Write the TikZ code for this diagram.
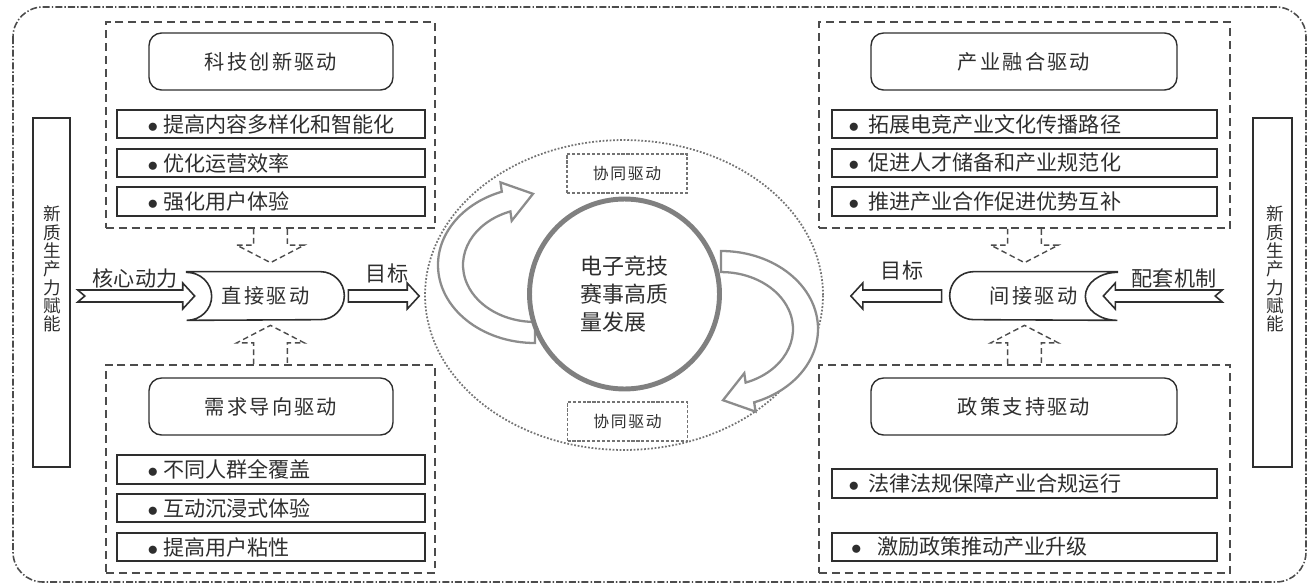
\documentclass[tikz,border=0pt]{standalone}
\usepackage{fontspec}
\setmainfont{Noto Sans CJK SC}
\newfontfamily\spacedfont[LetterSpace=11]{Noto Sans CJK SC}
\usepackage{xcolor}
\usetikzlibrary{calc,shapes.geometric}

\definecolor{inkgray}{gray}{0.18}
\definecolor{dashgray}{gray}{0.3}
\definecolor{dotgray}{gray}{0.45}
\definecolor{ringgray}{gray}{0.5}
\definecolor{swirlgray}{gray}{0.55}

\begin{document}
\begin{tikzpicture}[
  x=0.02cm, y=-0.02cm,
  every node/.style={font=\fontsize{12}{14}\selectfont, text=inkgray},
  frame/.style={draw=dashgray, line width=0.9pt, rounded corners=0.6cm,
    dash pattern=on 4pt off 1.2pt on 0.8pt off 1.2pt},
  grp/.style={draw=dashgray, line width=0.9pt, dash pattern=on 4.5pt off 2.8pt, inner sep=0pt},
  ttl/.style={draw=inkgray, line width=0.8pt, rounded corners=0.25cm, minimum height=1.14cm,
    font=\spacedfont\fontsize{11.5}{13}\selectfont},
  item/.style={draw=inkgray, line width=0.9pt, text width=#1, inner xsep=0pt, inner ysep=0pt,
    minimum height=0.57cm, align=left},
  bul/.style 2 args={execute at begin node={\hspace*{#1}$\bullet$\hspace{#2}}},
  itemL/.style={item=6.16cm, bul={0.61cm}{0.1cm}},
  itemR/.style={item=7.7cm, bul={0.33cm}{0.18cm}},
  sidebox/.style={draw=inkgray, line width=0.9pt, inner sep=0pt},
  sidetxt/.style={font=\fontsize{10}{10.4}\selectfont, align=center, inner sep=0pt},
  drive/.style={draw=inkgray, line width=0.9pt},
  drvtxt/.style={minimum height=0.96cm, inner sep=0pt, font=\spacedfont\fontsize{11.5}{13}\selectfont},
  fat/.style={draw=inkgray, line width=0.9pt, fill=white,
    to path={let \p1=(\tikztostart), \p2=(\tikztotarget), \n1={sign(\x2-\x1)} in
      (\x1,{\y1+3.4pt}) -- ({\x2-\n1*6.8pt},{\y1+3.4pt}) -- ({\x2-\n1*6.8pt},{\y1+7.4pt}) -- (\x2,\y1)
      -- ({\x2-\n1*6.8pt},{\y1-7.4pt}) -- ({\x2-\n1*6.8pt},{\y1-3.4pt}) -- (\x1,{\y1-3.4pt}) -- cycle}},
  fatn/.style={draw=inkgray, line width=0.9pt, fill=white,
    to path={let \p1=(\tikztostart), \p2=(\tikztotarget), \n1={sign(\x2-\x1)} in
      (\x1,{\y1+3.4pt}) -- ({\x2-\n1*6.8pt},{\y1+3.4pt}) -- ({\x2-\n1*6.8pt},{\y1+7.4pt}) -- (\x2,\y1)
      -- ({\x2-\n1*6.8pt},{\y1-7.4pt}) -- ({\x2-\n1*6.8pt},{\y1-3.4pt}) -- (\x1,{\y1-3.4pt})
      -- ({\x1+\n1*4pt},\y1) -- cycle}},
  fork/.style={draw=dashgray, line width=0.8pt, dash pattern=on 3.2pt off 2pt,
    to path={let \p1=(\tikztostart), \p2=(\tikztotarget), \n1={sign(\y2-\y1)} in
      ({\x1-9.6pt},\y1) -- ({\x1-9.6pt},{\y2-\n1*10pt}) -- ({\x1-19.3pt},{\y2-\n1*10pt}) -- (\x1,\y2)
      -- ({\x1+19.3pt},{\y2-\n1*10pt}) -- ({\x1+9.6pt},{\y2-\n1*10pt}) -- ({\x1+9.6pt},\y1)}},
  core/.style={ellipse, draw=dotgray, densely dotted, line width=1pt, inner sep=0pt},
  hub/.style={circle, draw=ringgray, line width=2.8pt, fill=white, minimum size=3.8cm,
    align=left, font=\fontsize{12.5}{16}\selectfont},
  swirl/.style={draw=swirlgray, line width=1.3pt, fill=white},
  sync/.style={draw=dotgray, line width=0.6pt, dash pattern=on 1.8pt off 1pt,
    minimum width=2.4cm, minimum height=0.78cm, font=\spacedfont\fontsize{9}{10}\selectfont}
]
\useasboundingbox (0,0) rectangle (1311,585);
\draw[frame] (13,7) rectangle (1306,582);

% ---- side bars ----
\node[sidebox, minimum width=0.74cm, minimum height=6.98cm] (sideL) at (51.5,292.5) {};
\node[sidetxt] (sideLtxt) at (52,269) {新\\质\\生\\产\\力\\赋\\能};
\node[sidebox, minimum width=0.78cm, minimum height=6.98cm] (sideR) at (1272.5,292.5) {};
\node[sidetxt] (sideRtxt) at (1275,269) {新\\质\\生\\产\\力\\赋\\能};

% ---- left: technology / demand ----
\node[grp, minimum width=6.58cm, minimum height=4.12cm] (grpTL) at (270.5,125) {};
\node[ttl, minimum width=4.88cm] (ttlTL) at (271,61.5) {科技创新驱动};
\node[itemL] (itTL1) at (271,124) {提高内容多样化和智能化};
\node[itemL] (itTL2) at (271,163) {优化运营效率};
\node[itemL] (itTL3) at (271,201.5) {强化用户体验};

\node[grp, minimum width=6.58cm, minimum height=4.16cm] (grpBL) at (270.5,469) {};
\node[ttl, minimum width=4.88cm] (ttlBL) at (271,406.5) {需求导向驱动};
\node[itemL] (itBL1) at (271,469.5) {不同人群全覆盖};
\node[itemL] (itBL2) at (271,508) {互动沉浸式体验};
\node[itemL] (itBL3) at (271,547) {提高用户粘性};

% ---- right: industry / policy ----
\node[grp, minimum width=8.22cm, minimum height=4.12cm] (grpTR) at (1024.5,125) {};
\node[ttl, minimum width=6.12cm] (ttlTR) at (1024,61.5) {产业融合驱动};
\node[itemR] (itTR1) at (1024.5,124) {拓展电竞产业文化传播路径};
\node[itemR] (itTR2) at (1024.5,163) {促进人才储备和产业规范化};
\node[itemR] (itTR3) at (1024.5,201.5) {推进产业合作促进优势互补};

\node[grp, minimum width=8.22cm, minimum height=4.16cm] (grpBR) at (1024.5,469) {};
\node[ttl, minimum width=6.12cm] (ttlBR) at (1024,406.5) {政策支持驱动};
\node[itemR] (itBR1) at (1024.5,483.5) {法律法规保障产业合规运行};
\node[item=7.7cm, bul={0.38cm}{0.31cm}] (itBR2) at (1024.5,547) {激励政策推动产业升级};

% ---- centre ----
\node[core, minimum width=7.96cm, minimum height=6.2cm] (core) at (624,295) {};
\draw[swirl] (535,343) arc[start angle=90, end angle=250, x radius=97, y radius=78]
  -- (500.5,182.4) -- (533,193.8) -- (511.7,220.8) -- (510.4,211.4)
  arc[start angle=250, end angle=90, x radius=72, y radius=57] -- cycle;
\draw[swirl, rotate around={180:(628,297)}] (535,343) arc[start angle=90, end angle=250, x radius=97, y radius=78]
  -- (500.5,182.4) -- (533,193.8) -- (511.7,220.8) -- (510.4,211.4)
  arc[start angle=250, end angle=90, x radius=72, y radius=57] -- cycle;
\node[hub] (hub) at (624.5,294) {电子竞技\\赛事高质\\量发展};
\node[sync] (syncT) at (627,173.5) {协同驱动};
\node[sync] (syncB) at (627.5,421.5) {协同驱动};

% ---- direct drive ----
\node[drvtxt, minimum width=3.14cm] (drvL) at (265.5,296) {直接驱动};
\draw[drive] (drvL.north west) -- ($(drvL.north east)+(-24,0)$) arc[start angle=-90, end angle=90, radius=24]
  -- (drvL.south west) arc[start angle=90, end angle=-90, x radius=25, y radius=24] -- cycle;
\coordinate (coreIn) at ($(sideL.east |- drvL.center)+(7,0)$);
\coordinate (cupL) at ($(drvL.west)+(8,0)$);
\coordinate (aimL) at ($(core.west)+(-5,0)$);
\coordinate (outL) at ($(drvL.east)+(4,0)$);
\draw[fatn] (coreIn) to (cupL);
\node (lblCore) at (135,278) {核心动力};
\draw[fat] (outL) to (aimL);
\node (lblAimL) at (387,273) {目标};
\draw[fork] (grpTL.south) to ($(drvL.north)+(0,-9)$);
\draw[fork] (grpBL.north) to ($(drvL.south)+(0,5)$);

% ---- indirect drive ----
\node[drvtxt, minimum width=3.34cm] (drvR) at (1033.5,296) {间接驱动};
\draw[drive] (drvR.north east) -- ($(drvR.north west)+(24,0)$) arc[start angle=-90, end angle=-270, radius=24]
  -- (drvR.south east) arc[start angle=90, end angle=270, x radius=32, y radius=24] -- cycle;
\coordinate (mechIn) at ($(sideR.west |- drvR.center)+(-30,0)$);
\coordinate (cupR) at ($(drvR.east)+(-14,0)$);
\coordinate (outR) at ($(drvR.west)+(-8,0)$);
\coordinate (aimR) at ($(core.east)+(27,0)$);
\draw[fatn] (mechIn) to (cupR);
\node (lblMech) at (1174,278) {配套机制};
\draw[fat] (outR) to (aimR);
\node (lblAimR) at (902,270) {目标};
\draw[fork] (grpTR.south) to ($(drvR.north)+(0,-9)$);
\draw[fork] (grpBR.north) to ($(drvR.south)+(0,5)$);
\end{tikzpicture}
\end{document}
